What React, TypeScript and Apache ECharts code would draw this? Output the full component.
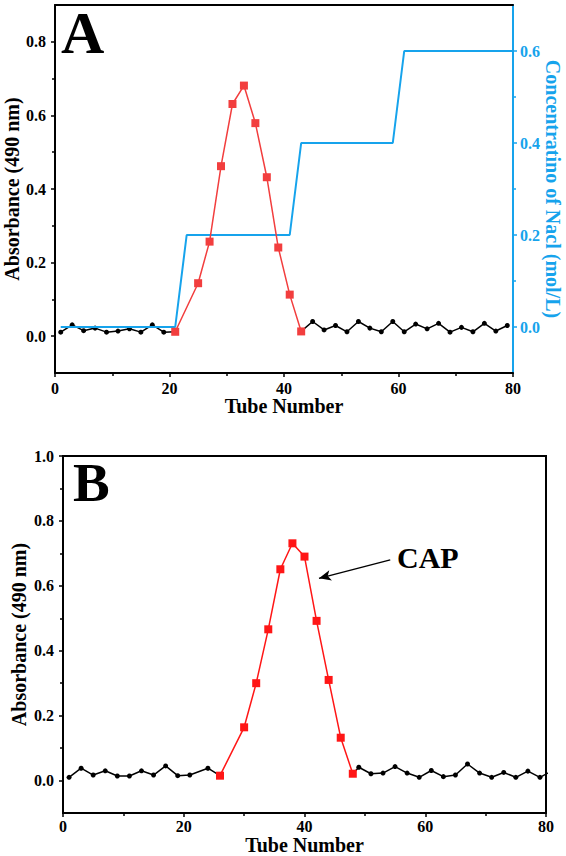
import React, { useEffect, useRef } from "react";
import * as echarts from "echarts";

const SERIF = "'Liberation Serif', 'Times New Roman', Times, serif";
const BLACK = "#000000";
const RED_A = "#f23e3e";
const RED_B = "#ff1616";
const BLUE = "#16a3ec";

// ---- Panel A: DEAE elution, absorbance at 490 nm ----
const tubesA_pre = [1, 3, 5, 7, 9, 11, 13, 15, 17, 19, 21];
const absA_pre = [0.011, 0.031, 0.015, 0.022, 0.011, 0.014, 0.02, 0.011, 0.031, 0.011, 0.012];

const tubesA_peak = [21, 25, 27, 29, 31, 33, 35, 37, 39, 41, 43];
const absA_peak = [0.012, 0.144, 0.257, 0.462, 0.631, 0.681, 0.579, 0.432, 0.241, 0.113, 0.013];

const tubesA_post = [43, 45, 47, 49, 51, 53, 55, 57, 59, 61, 63, 65, 67, 69, 71, 73, 75, 77, 79];
const absA_post = [0.013, 0.04, 0.017, 0.029, 0.012, 0.04, 0.022, 0.012, 0.04, 0.012, 0.033, 0.02, 0.035, 0.011, 0.024, 0.012, 0.035, 0.014, 0.029];

// NaCl step gradient (mol/L)
const naclTubes = [1, 21, 23, 41, 43, 59, 61, 80];
const naclConc = [0, 0, 0.2, 0.2, 0.4, 0.4, 0.6, 0.6];

// ---- Panel B: gel filtration of CAP ----
const tubesB_pre = [1, 3, 5, 7, 9, 11, 13, 15, 17, 19, 21, 24, 26];
const absB_pre = [0.01, 0.038, 0.017, 0.03, 0.014, 0.014, 0.03, 0.017, 0.045, 0.015, 0.017, 0.038, 0.015];

const tubesB_peak = [26, 30, 32, 34, 36, 38, 40, 42, 44, 46, 48];
const absB_peak = [0.015, 0.164, 0.3, 0.466, 0.651, 0.731, 0.69, 0.492, 0.31, 0.132, 0.021];

const tubesB_post = [48, 49, 51, 53, 55, 57, 59, 61, 63, 65, 67, 69, 71, 73, 75, 77, 79, 81];
const absB_post = [0.021, 0.041, 0.021, 0.023, 0.043, 0.023, 0.01, 0.031, 0.012, 0.017, 0.051, 0.023, 0.01, 0.025, 0.01, 0.029, 0.01, 0.03];

// Tick values
const absTicksA = [0, 0.2, 0.4, 0.6, 0.8];
const absMinorA = [0.1, 0.3, 0.5, 0.7];
const naclTicks = [0, 0.2, 0.4, 0.6];
const naclMinor = [0.1, 0.3, 0.5];
const absTicksB = [0, 0.2, 0.4, 0.6, 0.8, 1.0];
const absMinorB = [0.1, 0.3, 0.5, 0.7, 0.9];

const pair = (xs: number[], ys: number[]) => xs.map((x, i) => [x, ys[i]]);

const boldText = (size: number, color = BLACK) => ({
  fontFamily: SERIF,
  fontWeight: "bold" as const,
  fontSize: size,
  color,
});

function tubeAxis(gridIndex: number, nameGap: number, labelMargin: number) {
  return {
    type: "value",
    gridIndex,
    position: "bottom",
    min: 0,
    max: 80,
    interval: 20,
    name: "Tube Number",
    nameLocation: "middle",
    nameGap,
    nameMoveOverlap: false,
    nameTextStyle: boldText(20),
    axisLine: { onZero: false, lineStyle: { color: BLACK, width: 2 } },
    axisTick: { inside: false, length: 4, lineStyle: { color: BLACK, width: 1.5 } },
    minorTick: { show: true, splitNumber: 2, length: 3, lineStyle: { color: BLACK, width: 1.5 } },
    axisLabel: { ...boldText(16), margin: labelMargin },
    splitLine: { show: false },
    minorSplitLine: { show: false },
  };
}

function valueAxis(opts: {
  gridIndex: number;
  position: "left" | "right";
  min: number;
  max: number;
  major: number[];
  color: string;
  name?: string;
  nameRotate?: number;
  nameGap?: number;
  margin: number;
}) {
  return {
    type: "value",
    gridIndex: opts.gridIndex,
    position: opts.position,
    min: opts.min,
    max: opts.max,
    interval: 0.1,
    name: opts.name,
    nameLocation: "middle",
    nameRotate: opts.nameRotate,
    nameGap: opts.nameGap,
    nameMoveOverlap: false,
    nameTextStyle: boldText(20, opts.color),
    axisLine: { show: true, onZero: false, lineStyle: { color: opts.color, width: 2 } },
    axisTick: {
      show: true,
      inside: false,
      length: 4,
      customValues: opts.major,
      lineStyle: { color: opts.color, width: 1.5 },
    },
    axisLabel: {
      ...boldText(16, opts.color),
      margin: opts.margin,
      customValues: opts.major,
      formatter: (v: number) => v.toFixed(1),
    },
    splitLine: { show: false },
  };
}

// Overlay axis drawing only the short intermediate ticks
function minorAxis(gridIndex: number, position: "left" | "right", min: number, max: number, values: number[], color: string) {
  return {
    type: "value",
    gridIndex,
    position,
    offset: 0,
    min,
    max,
    interval: 0.1,
    axisLine: { show: false, onZero: false },
    axisTick: { show: true, inside: false, length: 3, customValues: values, lineStyle: { color, width: 1.5 } },
    axisLabel: { show: false },
    splitLine: { show: false },
  };
}

const blackLine = (data: number[][], xAxisIndex: number, yAxisIndex: number) => ({
  type: "line",
  xAxisIndex,
  yAxisIndex,
  data,
  symbol: "circle",
  symbolSize: 5,
  clip: true,
  itemStyle: { color: BLACK },
  lineStyle: { color: BLACK, width: 1.5 },
  z: 2,
});

const redLine = (data: number[][], color: string, xAxisIndex: number, yAxisIndex: number, extra: object = {}) => ({
  type: "line",
  xAxisIndex,
  yAxisIndex,
  data,
  symbol: "rect",
  symbolSize: 8,
  clip: true,
  itemStyle: { color },
  lineStyle: { color, width: 1.5 },
  z: 4,
  ...extra,
});

export default function App() {
  const ref = useRef<HTMLDivElement>(null);

  useEffect(() => {
    if (!ref.current) return;
    const chart = echarts.init(ref.current, undefined, { renderer: "svg" });

    const option = {
      animation: false,
      backgroundColor: "#ffffff",
      grid: [
        { left: 55, top: 5, right: 53, bottom: 483, containLabel: false, outerBoundsMode: "none" },
        {
          left: 63,
          top: 456,
          right: 20,
          bottom: 43,
          containLabel: false,
          outerBoundsMode: "none",
          show: true,
          borderColor: BLACK,
          borderWidth: 2,
          backgroundColor: "transparent",
        },
      ],
      xAxis: [
        tubeAxis(0, 23, 7),
        {
          type: "value",
          gridIndex: 0,
          position: "top",
          min: 0,
          max: 80,
          axisLine: { onZero: false, lineStyle: { color: BLACK, width: 2 } },
          axisTick: { show: false },
          axisLabel: { show: false },
          splitLine: { show: false },
        },
        tubeAxis(1, 22, 5),
      ],
      yAxis: [
        valueAxis({
          gridIndex: 0,
          position: "left",
          min: -0.1,
          max: 0.9,
          major: absTicksA,
          color: BLACK,
          name: "Absorbance (490 nm)",
          nameRotate: 90,
          nameGap: 33,
          margin: 9,
        }),
        minorAxis(0, "left", -0.1, 0.9, absMinorA, BLACK),
        valueAxis({
          gridIndex: 0,
          position: "right",
          min: -0.1,
          max: 0.7,
          major: naclTicks,
          color: BLUE,
          name: "Concentratino of Nacl (mol/L)",
          nameRotate: -90,
          nameGap: 30,
          margin: 7,
        }),
        minorAxis(0, "right", -0.1, 0.7, naclMinor, BLUE),
        valueAxis({
          gridIndex: 1,
          position: "left",
          min: -0.1,
          max: 1.0,
          major: absTicksB,
          color: BLACK,
          name: "Absorbance (490 nm)",
          nameRotate: 90,
          nameGap: 34,
          margin: 9,
        }),
        minorAxis(1, "left", -0.1, 1.0, absMinorB, BLACK),
      ],
      series: [
        blackLine(pair(tubesA_pre, absA_pre), 0, 0),
        blackLine(pair(tubesA_post, absA_post), 0, 0),
        {
          type: "line",
          xAxisIndex: 0,
          yAxisIndex: 2,
          data: pair(naclTubes, naclConc),
          symbol: "none",
          lineStyle: { color: BLUE, width: 2 },
          z: 3,
        },
        redLine(pair(tubesA_peak, absA_peak), RED_A, 0, 0),
        blackLine(pair(tubesB_pre, absB_pre), 2, 4),
        blackLine(pair(tubesB_post, absB_post), 2, 4),
        redLine(pair(tubesB_peak, absB_peak), RED_B, 2, 4, {
          markLine: {
            silent: true,
            symbol: ["none", "arrow"],
            symbolSize: [8, 12],
            label: { show: false },
            lineStyle: { color: BLACK, width: 1.5, type: "solid" },
            data: [[{ coord: [54.2, 0.68] }, { coord: [42.4, 0.623] }]],
          },
        }),
      ],
      graphic: [
        {
          type: "text",
          left: 61,
          top: 3,
          style: { text: "A", fontFamily: SERIF, fontWeight: "bold", fontSize: 60, fill: BLACK },
        },
        {
          type: "text",
          left: 73,
          top: 455,
          style: { text: "B", fontFamily: SERIF, fontWeight: "bold", fontSize: 55, fill: BLACK },
        },
        {
          type: "text",
          left: 397,
          top: 542,
          style: { text: "CAP", fontFamily: SERIF, fontWeight: "bold", fontSize: 30, fill: BLACK },
        },
      ],
    };

    chart.setOption(option as any);
    return () => chart.dispose();
  }, []);

  return (
    <div
      ref={ref}
      style={{ position: "absolute", left: 0, top: 0, width: 566, height: 856, background: "#fff" }}
    />
  );
}
